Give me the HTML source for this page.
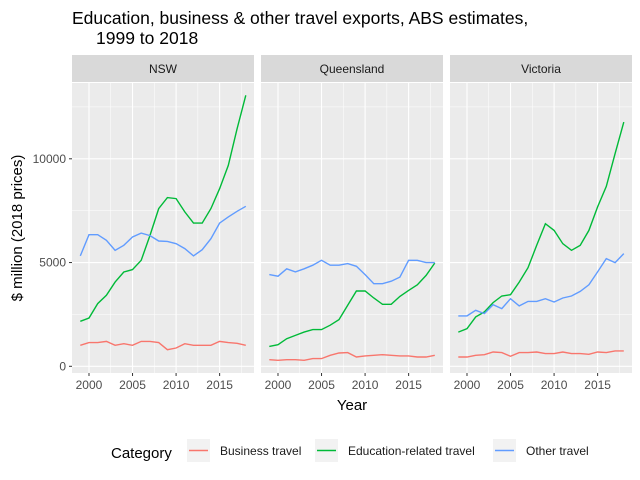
<!DOCTYPE html>
<html><head><meta charset="utf-8"><style>body{margin:0;background:#fff}svg{display:block}text{font-family:"Liberation Sans",Arial,sans-serif}</style></head>
<body>
<svg width="640" height="480" viewBox="0 0 640 480" xmlns="http://www.w3.org/2000/svg">
<text x="72" y="24" font-size="17.5" fill="#000">Education, business &amp; other travel exports, ABS estimates,</text>
<text x="96" y="44" font-size="17.5" fill="#000">1999 to 2018</text>
<g id="panels"></g>
<text transform="translate(22,228) rotate(-90)" text-anchor="middle" font-size="15" fill="#000">$ million (2018 prices)</text>
<text x="352" y="410" text-anchor="middle" font-size="15" fill="#000">Year</text>
<text x="111" y="458" font-size="15" fill="#000">Category</text>
<rect x="187" y="439" width="23" height="23" fill="#f2f2f2"/><line x1="189" y1="450.5" x2="208" y2="450.5" stroke="#F8766D" stroke-width="1.4"/>
<text x="220" y="455" font-size="12" fill="#1a1a1a">Business travel</text>
<rect x="315" y="439" width="23" height="23" fill="#f2f2f2"/><line x1="317" y1="450.5" x2="336" y2="450.5" stroke="#00BA38" stroke-width="1.4"/>
<text x="348" y="455" font-size="12" fill="#1a1a1a">Education-related travel</text>
<rect x="493" y="439" width="23" height="23" fill="#f2f2f2"/><line x1="495" y1="450.5" x2="514" y2="450.5" stroke="#619CFF" stroke-width="1.4"/>
<text x="526" y="455" font-size="12" fill="#1a1a1a">Other travel</text>
</svg>
<script>
const data={
NSW:{g:[2168,2330,3020,3420,4060,4545,4660,5110,6310,7600,8130,8080,7440,6900,6900,7600,8560,9680,11450,13060],
b:[5320,6340,6340,6070,5590,5830,6230,6420,6300,6040,6020,5910,5670,5320,5620,6150,6900,7200,7470,7710],
r:[1010,1140,1140,1200,1010,1090,1010,1200,1200,1140,800,880,1090,1010,1010,1010,1200,1140,1110,1010]},
Queensland:{g:[960,1040,1330,1490,1650,1770,1770,1980,2250,2940,3630,3630,3290,2990,2990,3370,3660,3930,4380,4980],
b:[4420,4340,4700,4550,4700,4870,5110,4870,4870,4950,4820,4420,3980,3980,4100,4300,5110,5110,5000,5000],
r:[320,290,320,320,290,370,370,530,640,660,450,500,530,560,530,500,500,450,450,530]},
Victoria:{g:[1650,1810,2380,2620,3070,3390,3450,4060,4750,5830,6870,6550,5910,5590,5830,6550,7680,8670,10250,11770],
b:[2430,2430,2700,2540,2970,2780,3260,2910,3130,3130,3260,3100,3290,3390,3610,3930,4550,5190,5000,5430],
r:[450,450,530,560,690,660,480,660,660,690,610,610,690,610,610,580,690,660,740,740]}};
const ns="http://www.w3.org/2000/svg";const G=document.getElementById("panels");
function el(t,a,p){const e=document.createElementNS(ns,t);for(const k in a)e.setAttribute(k,a[k]);(p||G).appendChild(e);return e;}
const Y=v=>366.3-v*0.02075;
const names=["NSW","Queensland","Victoria"];const lefts=[72,261,450];const W=182;
names.forEach((n,i)=>{const L=lefts[i];const X=yr=>L+(yr-1999+0.95)*8.71;
el("rect",{x:L,y:55,width:W,height:27,fill:"#D9D9D9"});
const t=el("text",{x:L+W/2,y:73,"text-anchor":"middle","font-size":"12","fill":"#1a1a1a"});t.textContent=n;
el("rect",{x:L,y:83,width:W,height:290,fill:"#EBEBEB"});
[2500,7500,12500].forEach(v=>el("line",{x1:L,x2:L+W,y1:Y(v),y2:Y(v),stroke:"#fff","stroke-width":"0.5"}));
[1997.5,2002.5,2007.5,2012.5,2017.5].forEach(v=>{const x=X(v);if(x>L&&x<L+W)el("line",{x1:x,x2:x,y1:83,y2:373,stroke:"#fff","stroke-width":"0.5"})});
[0,5000,10000].forEach(v=>el("line",{x1:L,x2:L+W,y1:Y(v),y2:Y(v),stroke:"#fff","stroke-width":"1.1"}));
[2000,2005,2010,2015].forEach(v=>{const x=X(v);el("line",{x1:x,x2:x,y1:83,y2:373,stroke:"#fff","stroke-width":"1.1"});
el("line",{x1:x,x2:x,y1:373,y2:376,stroke:"#333","stroke-width":"1"});
const tt=el("text",{x:x,y:389,"text-anchor":"middle","font-size":"12",fill:"#4d4d4d"});tt.textContent=v;});
const d=data[n];[["r","#F8766D"],["g","#00BA38"],["b","#619CFF"]].forEach(([k,c])=>{
el("polyline",{points:d[k].map((v,j)=>X(1999+j).toFixed(1)+","+Y(v).toFixed(1)).join(" "),fill:"none",stroke:c,"stroke-width":"1.4"});});
});
[0,5000,10000].forEach(v=>{el("line",{x1:69,x2:72,y1:Y(v),y2:Y(v),stroke:"#333"});const t=el("text",{x:66,y:Y(v)+4,"text-anchor":"end","font-size":"12",fill:"#4d4d4d"});t.textContent=v;});
</script>
</body></html>
